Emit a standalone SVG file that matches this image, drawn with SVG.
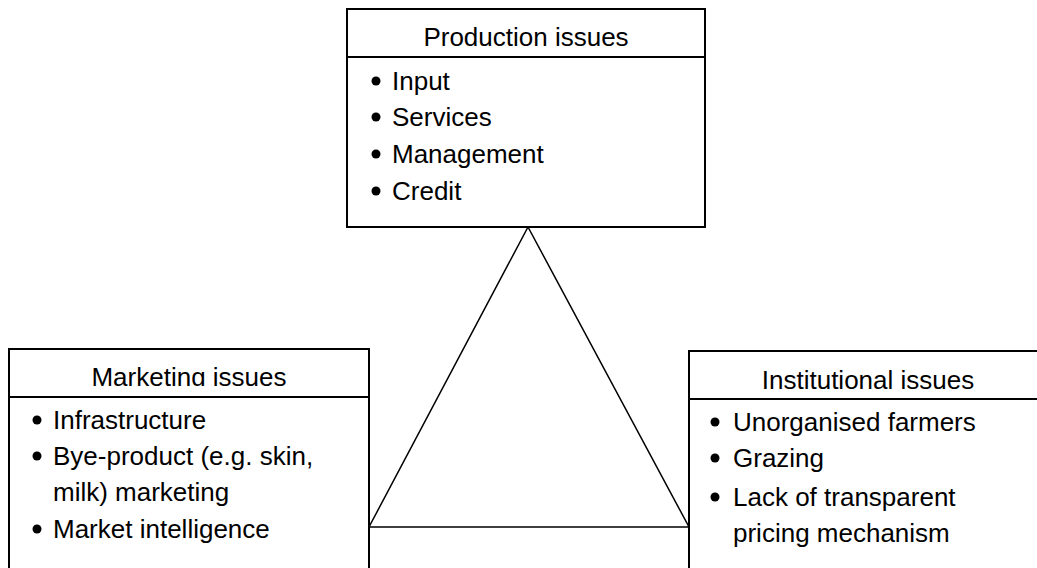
<svg xmlns="http://www.w3.org/2000/svg" width="1037" height="568" viewBox="0 0 1037 568">
<style>
.box{fill:#fff;stroke:#000;stroke-width:2}
.div{stroke:#000;stroke-width:2}
.t{font-family:"Liberation Sans",Arial,sans-serif;font-size:26px;fill:#000}
.h{text-anchor:middle}
.conn{fill:none;stroke:#000;stroke-width:1.5}
</style>
<defs>
<clipPath id="mclip"><rect x="9" y="349" width="360" height="37"/></clipPath>
</defs>
<rect width="1037" height="568" fill="#fff"/>
<g id="connectors">
<polygon class="conn" points="528,227 369,527 689,527"/>
</g>
<g id="production">
<rect class="box" x="347" y="9" width="358" height="218"/>
<line class="div" x1="347" y1="57" x2="705" y2="57"/>
<text class="t h" x="526" y="46">Production issues</text>
<circle cx="376" cy="81" r="4.5"/><text class="t" x="392" y="90">Input</text>
<circle cx="376" cy="117" r="4.5"/><text class="t" x="392" y="126">Services</text>
<circle cx="376" cy="154" r="4.5"/><text class="t" x="392" y="163">Management</text>
<circle cx="376" cy="191" r="4.5"/><text class="t" x="392" y="200">Credit</text>
</g>
<g id="marketing">
<rect class="box" x="9" y="349" width="360" height="240"/>
<line class="div" x1="9" y1="397" x2="369" y2="397"/>
<text class="t h" x="189" y="386" clip-path="url(#mclip)">Marketing issues</text>
<circle cx="37" cy="420" r="4.5"/><text class="t" x="53" y="429">Infrastructure</text>
<circle cx="37" cy="456" r="4.5"/><text class="t" x="53" y="465">Bye-product (e.g. skin,</text>
<text class="t" x="53" y="501">milk) marketing</text>
<circle cx="37" cy="529" r="4.5"/><text class="t" x="53" y="538">Market intelligence</text>
</g>
<g id="institutional">
<rect class="box" x="689" y="351" width="370" height="240"/>
<line class="div" x1="689" y1="399" x2="1059" y2="399"/>
<text class="t h" x="868" y="389">Institutional issues</text>
<circle cx="715" cy="422" r="4.5"/><text class="t" x="733" y="431">Unorganised farmers</text>
<circle cx="715" cy="458" r="4.5"/><text class="t" x="733" y="467">Grazing</text>
<circle cx="715" cy="497" r="4.5"/><text class="t" x="733" y="506">Lack of transparent</text>
<text class="t" x="733" y="542">pricing mechanism</text>
</g>
</svg>
